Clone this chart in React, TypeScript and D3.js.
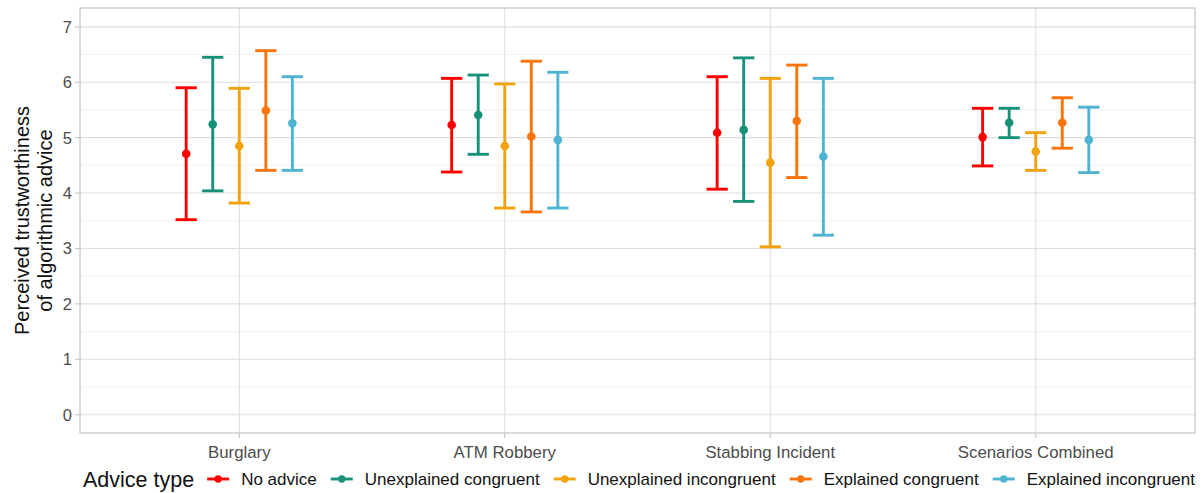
import React, { useRef, useEffect } from 'react'
import * as d3 from 'd3'

// scenarios on the x axis
const scenarios = ['Burglary', 'ATM Robbery', 'Stabbing Incident', 'Scenarios Combined']
const adviceTypes = ['No advice', 'Unexplained congruent', 'Unexplained incongruent', 'Explained congruent', 'Explained incongruent']
const colors = ['#ff0000', '#17917a', '#f2a20c', '#fb740a', '#4fb3d2']

// means and interval bounds, one row per scenario, one column per advice type
const means = [
  [4.71, 5.24, 4.85, 5.49, 5.26],
  [5.23, 5.41, 4.85, 5.02, 4.96],
  [5.09, 5.14, 4.55, 5.30, 4.66],
  [5.01, 5.27, 4.75, 5.27, 4.96],
]
const lower = [
  [3.52, 4.04, 3.82, 4.41, 4.41],
  [4.38, 4.70, 3.73, 3.66, 3.73],
  [4.07, 3.85, 3.03, 4.28, 3.24],
  [4.49, 5.00, 4.41, 4.81, 4.37],
]
const upper = [
  [5.90, 6.45, 5.89, 6.57, 6.10],
  [6.07, 6.13, 5.97, 6.38, 6.18],
  [6.10, 6.44, 6.07, 6.31, 6.07],
  [5.53, 5.53, 5.09, 5.72, 5.55],
]
const yTicks = [0, 1, 2, 3, 4, 5, 6, 7]

const W = 1202
const H = 493
const FONT = '"Liberation Sans", Arial, Helvetica, sans-serif'

export default function App() {
  const svgRef = useRef<SVGSVGElement>(null)

  useEffect(() => {
    const svg = d3.select(svgRef.current)
    svg.selectAll('*').remove()

    const left = 80, right = 1195, top = 8, bottom = 433

    // ggplot style discrete x: 0.6 expansion each side
    const x = d3.scaleLinear().domain([0.4, 4.6]).range([left, right])
    const y = d3.scaleLinear().domain([-0.33, 7.34]).range([bottom, top])
    const dodge = 0.1
    const capHalf = 0.04

    const g = svg.append('g')

    // minor grid
    const minor = d3.range(-0.5, 7.5, 1).filter(v => v > -0.33 && v < 7.34)
    g.selectAll('line.minor').data(minor).join('line')
      .attr('x1', left).attr('x2', right)
      .attr('y1', d => y(d)).attr('y2', d => y(d))
      .attr('stroke', '#ededed').attr('stroke-width', 0.8)
    // major grid
    g.selectAll('line.majy').data(yTicks).join('line')
      .attr('x1', left).attr('x2', right)
      .attr('y1', d => y(d)).attr('y2', d => y(d))
      .attr('stroke', '#dedede').attr('stroke-width', 1.1)
    g.selectAll('line.majx').data(scenarios).join('line')
      .attr('x1', (d, i) => x(i + 1)).attr('x2', (d, i) => x(i + 1))
      .attr('y1', top).attr('y2', bottom)
      .attr('stroke', '#dedede').attr('stroke-width', 1.1)

    // panel border
    g.append('rect')
      .attr('x', left).attr('y', top)
      .attr('width', right - left).attr('height', bottom - top)
      .attr('fill', 'none').attr('stroke', '#c4c4c4').attr('stroke-width', 1.2)

    // y ticks + labels
    yTicks.forEach(t => {
      g.append('line').attr('x1', left - 5).attr('x2', left)
        .attr('y1', y(t)).attr('y2', y(t))
        .attr('stroke', '#c4c4c4').attr('stroke-width', 1.1)
      g.append('text').attr('x', left - 8).attr('y', y(t)).attr('dy', '0.36em')
        .attr('text-anchor', 'end').attr('font-size', 16.5).attr('fill', '#4d4d4d')
        .attr('font-family', FONT).text(t)
    })
    // x ticks + labels
    scenarios.forEach((s, i) => {
      g.append('line').attr('x1', x(i + 1)).attr('x2', x(i + 1))
        .attr('y1', bottom).attr('y2', bottom + 5)
        .attr('stroke', '#c4c4c4').attr('stroke-width', 1.1)
      g.append('text').attr('x', x(i + 1)).attr('y', bottom + 25)
        .attr('text-anchor', 'middle').attr('font-size', 16.8).attr('fill', '#4d4d4d')
        .attr('font-family', FONT).text(s)
    })

    // y title, two lines
    const yt = g.append('text')
      .attr('transform', `translate(0,${(top + bottom) / 2}) rotate(-90)`)
      .attr('text-anchor', 'middle').attr('font-size', 20).attr('fill', '#111')
      .attr('font-family', FONT)
    yt.append('tspan').attr('x', 0).attr('y', 29).text('Perceived trustworthiness')
    yt.append('tspan').attr('x', 0).attr('y', 52).text('of algorithmic advice')

    // error bars
    scenarios.forEach((s, i) => {
      adviceTypes.forEach((a, j) => {
        const cx = i + 1 + (j - 2) * dodge
        const col = colors[j]
        const bar = g.append('g').attr('stroke', col).attr('stroke-width', 2.9)
        bar.append('line').attr('x1', x(cx)).attr('x2', x(cx))
          .attr('y1', y(lower[i][j])).attr('y2', y(upper[i][j]))
        bar.append('line').attr('x1', x(cx - capHalf)).attr('x2', x(cx + capHalf))
          .attr('y1', y(lower[i][j])).attr('y2', y(lower[i][j]))
        bar.append('line').attr('x1', x(cx - capHalf)).attr('x2', x(cx + capHalf))
          .attr('y1', y(upper[i][j])).attr('y2', y(upper[i][j]))
        g.append('circle').attr('cx', x(cx)).attr('cy', y(means[i][j]))
          .attr('r', 4.3).attr('fill', col)
      })
    })

    // legend
    const ly = 479
    const leg = g.append('g')
    const title = leg.append('text').attr('x', 83).attr('y', ly).attr('dy', '0.35em')
      .attr('font-size', 21.5).attr('fill', '#111').attr('font-family', FONT)
      .text('Advice type')
    let cur = 83 + (title.node() as SVGTextElement).getComputedTextLength() + 13
    adviceTypes.forEach((a, j) => {
      leg.append('line').attr('x1', cur).attr('x2', cur + 22)
        .attr('y1', ly).attr('y2', ly)
        .attr('stroke', colors[j]).attr('stroke-width', 2.9)
      leg.append('circle').attr('cx', cur + 11).attr('cy', ly).attr('r', 3.7).attr('fill', colors[j])
      const t = leg.append('text').attr('x', cur + 34).attr('y', ly).attr('dy', '0.35em')
        .attr('font-size', 17).attr('fill', '#111').attr('font-family', FONT).text(a)
      cur += 34 + (t.node() as SVGTextElement).getComputedTextLength() + 14
    })
  }, [])

  return (
    <svg ref={svgRef} width={W} height={H} style={{ position: 'absolute', left: 0, top: 0, background: '#fff' }} />
  )
}
